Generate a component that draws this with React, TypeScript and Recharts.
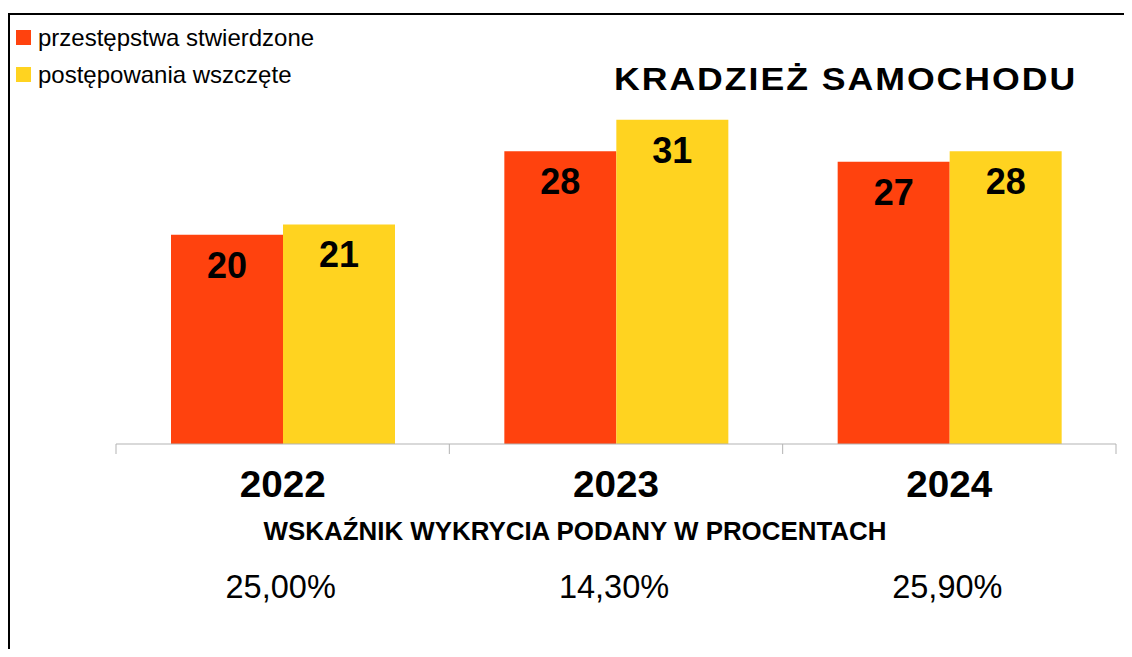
import React from "react";
import { BarChart, Bar, XAxis, YAxis, LabelList } from "recharts";

const years = ["2022", "2023", "2024"];
const stwierdzone = [20, 28, 27];
const wszczete = [21, 31, 28];
const wskaznik = ["25,00%", "14,30%", "25,90%"];

const seriesNames = ["przestępstwa stwierdzone", "postępowania wszczęte"];
const title = "KRADZIEŻ SAMOCHODU";
const subtitle = "WSKAŹNIK WYKRYCIA PODANY W PROCENTACH";

const data = years.map((y, i) => ({
  year: y,
  stwierdzone: stwierdzone[i],
  wszczete: wszczete[i],
  wskaznik: wskaznik[i],
}));

const W = 1132;
const H = 657;
const M = { top: 78, right: 16, left: 116, bottom: 0 };
const BAND = (W - M.left - M.right) / years.length;
const FONT = "'Liberation Sans', Arial, sans-serif";
const ORANGE = "#ff420e";
const YELLOW = "#ffd320";

function BarValue(props: any) {
  const { x, y, width, value } = props;
  return (
    <text
      x={x + width / 2}
      y={y + 43}
      textAnchor="middle"
      fontFamily={FONT}
      fontWeight="bold"
      fontSize={36}
      fill="#000"
    >
      {value}
    </text>
  );
}

function YearTick(props: any) {
  const { x, y, index, payload } = props;
  const half = BAND / 2;
  return (
    <g>
      <line x1={x - half} y1={y} x2={x - half} y2={y + 10} stroke="#b3b3b3" />
      {index === years.length - 1 && (
        <line x1={x + half} y1={y} x2={x + half} y2={y + 10} stroke="#b3b3b3" />
      )}
      <text
        x={x - 43}
        y={y + 53}
        fontFamily={FONT}
        fontWeight="bold"
        fontSize={36}
        textLength={86}
        lengthAdjust="spacingAndGlyphs"
        fill="#000"
      >
        {payload.value}
      </text>
      <text x={x - 2} y={y + 154} textAnchor="middle" fontFamily={FONT} fontSize={32.5} fill="#000">
        {wskaznik[index]}
      </text>
    </g>
  );
}

export default function App() {
  return (
    <div style={{ position: "relative", margin: -8, width: W, height: H, background: "#fff", overflow: "hidden" }}>
      <div
        style={{
          position: "absolute",
          left: 8,
          top: 13,
          width: W,
          height: H,
          borderTop: "2px solid #000",
          borderLeft: "2px solid #000",
        }}
      />
      <div style={{ position: "absolute", left: 0, top: 0 }}>
        <BarChart width={W} height={H} data={data} margin={M} barGap={0} barSize={112}>
          <YAxis hide domain={[0, 35]} />
          <XAxis
            dataKey="year"
            height={213}
            axisLine={{ stroke: "#b3b3b3" }}
            tickLine={false}
            tickSize={0}
            tickMargin={0}
            interval={0}
            tick={<YearTick />}
          />
          <Bar dataKey="stwierdzone" fill={ORANGE} isAnimationActive={false}>
            <LabelList dataKey="stwierdzone" content={<BarValue />} />
          </Bar>
          <Bar dataKey="wszczete" fill={YELLOW} isAnimationActive={false}>
            <LabelList dataKey="wszczete" content={<BarValue />} />
          </Bar>
        </BarChart>
      </div>
      <svg width={W} height={H} style={{ position: "absolute", left: 0, top: 0, pointerEvents: "none" }}>
        <rect x={16} y={30} width={15} height={15} fill={ORANGE} />
        <text x={38} y={46} fontFamily={FONT} fontSize={24} fill="#000">
          {seriesNames[0]}
        </text>
        <rect x={16} y={67} width={15} height={15} fill={YELLOW} />
        <text x={38} y={83} fontFamily={FONT} fontSize={24} fill="#000">
          {seriesNames[1]}
        </text>
        <g transform="translate(614 90) scale(1.15 1)">
          <text
            x={0}
            y={0}
            fontFamily={FONT}
            fontWeight="bold"
            fontSize={31}
            textLength={401}
            lengthAdjust="spacing"
            fill="#000"
          >
            {title}
          </text>
        </g>
        <text x={575} y={540} textAnchor="middle" fontFamily={FONT} fontWeight="bold" fontSize={25.9} fill="#000">
          {subtitle}
        </text>
      </svg>
    </div>
  );
}
